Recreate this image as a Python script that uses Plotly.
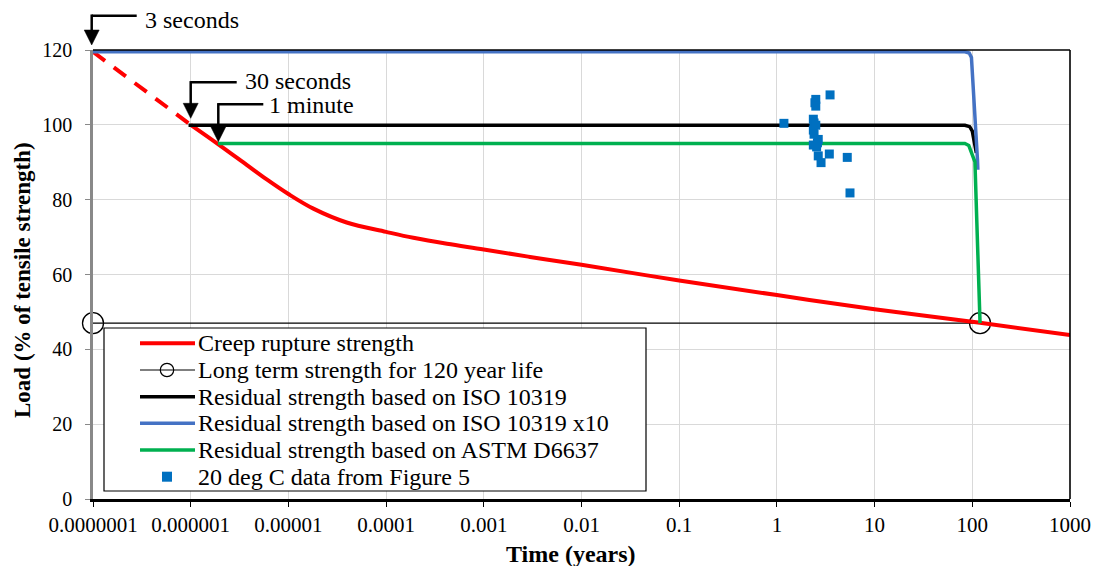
import plotly.graph_objects as go

# ---------------- data ----------------
creep_dash_t = [1e-7, 1e-6]
creep_dash_v = [119.5, 100.0]
creep_t = [1e-6, 1.92e-6, 3.74e-6, 6.0e-6, 1e-5, 1.8e-5, 3.95e-5, 1e-4, 1.9e-4,
           4.2e-4, 1e-3, 2.97e-3, 1e-2, 1e-1, 1, 10, 120, 1000]
creep_v = [100.0, 94.8, 89.3, 85.4, 81.5, 77.6, 73.9, 71.4, 69.8,
           68.2, 66.7, 64.7, 62.6, 58.4, 54.5, 50.7, 47.1, 43.8]

longterm_t = [1e-7, 120]
longterm_v = [47.0, 47.0]

iso_t = [9.5e-7, 84, 94, 100, 102.4, 106, 110]
iso_v = [99.9, 99.9, 99.5, 98.3, 96.8, 94.5, 92.5]

iso10_t = [1e-7, 84, 93, 98, 113, 114]
iso10_v = [119.5, 119.5, 119.2, 118.0, 90.6, 88.0]

astm_t = [1.9e-6, 84, 92, 98.4, 106.4, 120]
astm_v = [95.0, 95.0, 94.5, 92.4, 90.1, 47.0]

data20_t = [1.18, 3.50, 2.50, 2.45, 2.50, 2.36, 2.40, 2.50, 2.36, 2.40, 2.65,
            2.36, 2.55, 2.60, 2.65, 3.44, 2.83, 5.25, 5.60]
data20_v = [100.4, 108.0, 106.8, 105.9, 105.0, 101.5, 100.5, 99.9, 98.6, 97.5, 96.1,
            94.6, 94.1, 95.2, 91.7, 92.2, 89.9, 91.3, 81.8]

x_tickvals = [1e-7, 1e-6, 1e-5, 1e-4, 1e-3, 1e-2, 1e-1, 1, 10, 100, 1000]
x_ticktext = ["0.0000001", "0.000001", "0.00001", "0.0001", "0.001", "0.01",
              "0.1", "1", "10", "100", "1000"]
y_tickvals = [0, 20, 40, 60, 80, 100, 120]

legend_labels = ["Creep rupture strength", "Long term strength for 120 year life",
                 "Residual strength based on ISO 10319",
                 "Residual strength based on ISO 10319 x10",
                 "Residual strength based on ASTM D6637",
                 "20 deg C data from Figure 5"]

RED, BLACK, BLUE, GREEN, DOT = "#FF0000", "#000000", "#4472C4", "#00B050", "#0070C0"
FONT = "Liberation Serif"

# ---------------- layout geometry (pixels) ----------------
W, H = 1095, 566
L, R, T, B = 93, 1070, 50, 499


def px(x):
    return (x - L) / (R - L)


def py(y):
    return (B - y) / (B - T)


fig = go.Figure()

fig.add_trace(go.Scatter(x=longterm_t, y=longterm_v, mode="lines+markers",
                         line=dict(color=BLACK, width=1.2),
                         marker=dict(symbol="circle-open", size=21, color=BLACK,
                                     line=dict(width=1.3, color=BLACK)),
                         cliponaxis=False, showlegend=False))
fig.add_trace(go.Scatter(x=creep_dash_t, y=creep_dash_v, mode="lines",
                         line=dict(color=RED, width=4, dash="15px,11px"),
                         showlegend=False))
fig.add_trace(go.Scatter(x=creep_t, y=creep_v, mode="lines",
                         line=dict(color=RED, width=4, shape="spline", smoothing=1.0),
                         showlegend=False))
fig.add_trace(go.Scatter(x=iso_t, y=iso_v, mode="lines",
                         line=dict(color=BLACK, width=3.5), showlegend=False))
fig.add_trace(go.Scatter(x=iso10_t, y=iso10_v, mode="lines",
                         line=dict(color=BLUE, width=3.5), showlegend=False))
fig.add_trace(go.Scatter(x=astm_t, y=astm_v, mode="lines",
                         line=dict(color=GREEN, width=3.5), showlegend=False))
fig.add_trace(go.Scatter(x=data20_t, y=data20_v, mode="markers",
                         marker=dict(symbol="square", size=9, color=DOT),
                         showlegend=False))

shapes = []
# frame top and right
shapes.append(dict(type="line", xref="paper", yref="paper", x0=0, x1=1, y0=1, y1=1,
                   line=dict(color=BLACK, width=1.3), layer="above"))
shapes.append(dict(type="line", xref="paper", yref="paper", x0=1, x1=1, y0=0, y1=1,
                   line=dict(color=BLACK, width=1.6), layer="above"))

# annotation arrows (pixel geometry)
arrows = [  # (x_vert, y_top, x_right, tri_top, tri_tip, half_width)
    (91.7, 15.7, 136.7, 30.0, 45.0, 7.5),
    (190.7, 82.3, 236.7, 103.3, 118.3, 7.5),
    (218.3, 104.3, 263.3, 126.7, 141.7, 7.5),
]
for xv, yt, xr, tt, tip, hw in arrows:
    shapes.append(dict(type="line", xref="paper", yref="paper",
                       x0=px(xv), x1=px(xr), y0=py(yt), y1=py(yt),
                       line=dict(color=BLACK, width=2.5)))
    shapes.append(dict(type="line", xref="paper", yref="paper",
                       x0=px(xv), x1=px(xv), y0=py(yt - 1.2), y1=py(tt + 1),
                       line=dict(color=BLACK, width=2.5)))
    path = "M {},{} L {},{} L {},{} Z".format(px(xv - hw), py(tt), px(xv + hw), py(tt),
                                              px(xv), py(tip))
    shapes.append(dict(type="path", xref="paper", yref="paper", path=path,
                       fillcolor=BLACK, line=dict(color=BLACK, width=0.5)))

# manual legend
LX0, LX1, LY0, LY1 = 104, 646, 328, 491
shapes.append(dict(type="rect", xref="paper", yref="paper",
                   x0=px(LX0), x1=px(LX1), y0=py(LY0), y1=py(LY1),
                   fillcolor="white", line=dict(color=BLACK, width=1.2), layer="above"))
row_y = [343.3, 370.0, 396.7, 423.3, 450.0, 476.7]
line_styles = [(RED, 4), (BLACK, 1.2), (BLACK, 3.5), (BLUE, 3.5), (GREEN, 3.5)]
for i, (c, w) in enumerate(line_styles):
    shapes.append(dict(type="line", xref="paper", yref="paper",
                       x0=px(140), x1=px(195), y0=py(row_y[i]), y1=py(row_y[i]),
                       line=dict(color=c, width=w), layer="above"))
r = 6.7
shapes.append(dict(type="circle", xref="paper", yref="paper",
                   x0=px(167 - r), x1=px(167 + r), y0=py(row_y[1] + r), y1=py(row_y[1] - r),
                   fillcolor="rgba(0,0,0,0)", line=dict(color=BLACK, width=1.2), layer="above"))
s = 5
shapes.append(dict(type="rect", xref="paper", yref="paper",
                   x0=px(167 - s), x1=px(167 + s), y0=py(row_y[5] + s), y1=py(row_y[5] - s),
                   fillcolor=DOT, line=dict(width=0), layer="above"))

annotations = []
for lbl, yy in zip(legend_labels, row_y):
    annotations.append(dict(xref="paper", yref="paper", x=px(196), y=py(yy),
                            xanchor="left", yanchor="middle", showarrow=False, text=lbl,
                            font=dict(family=FONT, size=24, color=BLACK)))

for txt, xx, yy in [("3 seconds", 143, 20), ("30 seconds", 243, 81), ("1 minute", 267, 105)]:
    annotations.append(dict(xref="paper", yref="paper", x=px(xx), y=py(yy),
                            xanchor="left", yanchor="middle", showarrow=False, text=txt,
                            font=dict(family=FONT, size=24, color=BLACK)))

# axis titles
annotations.append(dict(xref="paper", yref="paper", x=px(571), y=py(554),
                        xanchor="center", yanchor="middle", showarrow=False,
                        text="<b>Time (years)</b>",
                        font=dict(family=FONT, size=24, color=BLACK)))
annotations.append(dict(xref="paper", yref="paper", x=px(22), y=py(280),
                        xanchor="center", yanchor="middle", showarrow=False, textangle=-90,
                        text="<b>Load (% of tensile strength)</b>",
                        font=dict(family=FONT, size=23, color=BLACK)))

fig.update_layout(
    width=W, height=H,
    margin=dict(l=L, r=W - R, t=T, b=H - B, pad=0),
    paper_bgcolor="white", plot_bgcolor="white",
    font=dict(family=FONT, color=BLACK),
    shapes=shapes, annotations=annotations, showlegend=False,
)
fig.update_xaxes(type="log", range=[-7, 3], tickvals=x_tickvals, ticktext=x_ticktext,
                 automargin=False,
                 showgrid=True, gridcolor="#D9D9D9", gridwidth=1,
                 showline=True, linecolor=BLACK, linewidth=2.5,
                 ticks="outside", ticklen=5, tickcolor=BLACK, tickwidth=1.3,
                 ticklabelstandoff=0, zeroline=False,
                 tickfont=dict(family=FONT, size=21, color=BLACK))
fig.update_yaxes(range=[0, 120], tickvals=y_tickvals, automargin=False,
                 showgrid=True, gridcolor="#D9D9D9", gridwidth=1,
                 showline=True, linecolor="#898989", linewidth=2.5,
                 ticks="outside", ticklen=5, tickcolor="#898989", tickwidth=1.3,
                 ticklabelstandoff=9, zeroline=False,
                 tickfont=dict(family=FONT, size=20, color=BLACK))

fig.write_html("out.html")
